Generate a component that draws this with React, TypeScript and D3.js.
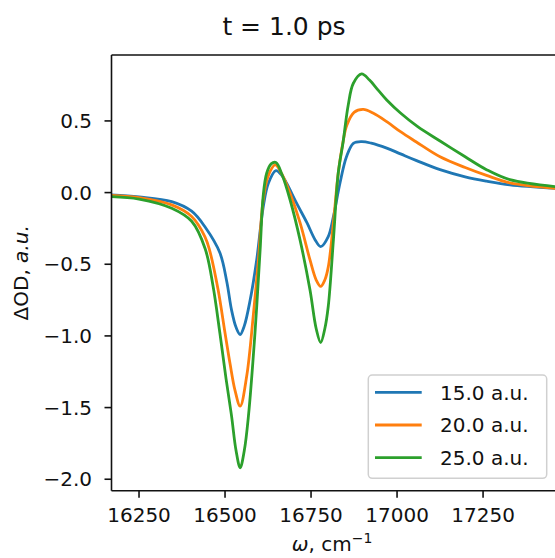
import React from 'react';
import * as d3 from 'd3';

const W = 555;
const H = 558;

const titleText = 't = 1.0 ps';
const seriesLabels = ['15.0 a.u.', '20.0 a.u.', '25.0 a.u.'];
const seriesColors = ['#1f77b4', '#ff7f0e', '#2ca02c'];
const xTicks = [16250, 16500, 16750, 17000, 17250];
const yTicks = [-2.0, -1.5, -1.0, -0.5, 0.0, 0.5];

const blueX = [16170, 16250, 16345, 16403, 16442, 16485, 16505, 16519, 16532, 16544, 16556, 16573, 16592, 16611, 16626, 16648, 16665, 16679, 16708, 16738, 16762, 16778, 16800, 16815, 16834, 16853, 16873, 16897, 16925, 16970, 17010, 17055, 17125, 17198, 17260, 17328, 17460];
const blueY = [-0.016, -0.03, -0.063, -0.13, -0.24, -0.42, -0.62, -0.82, -0.94, -0.99, -0.93, -0.75, -0.47, -0.10, 0.065, 0.153, 0.12, 0.065, -0.074, -0.21, -0.33, -0.377, -0.307, -0.167, 0.065, 0.25, 0.344, 0.356, 0.345, 0.31, 0.27, 0.225, 0.16, 0.11, 0.08, 0.054, 0.03];

const orangeX = [16170, 16250, 16345, 16403, 16442, 16456, 16480, 16500, 16515, 16529, 16544, 16563, 16582, 16597, 16611, 16626, 16646, 16665, 16689, 16718, 16747, 16765, 16778, 16790, 16800, 16815, 16829, 16844, 16854, 16875, 16902, 16930, 16970, 17010, 17055, 17125, 17198, 17260, 17328, 17460];
const orangeY = [-0.02, -0.035, -0.086, -0.167, -0.31, -0.41, -0.68, -0.98, -1.20, -1.38, -1.49, -1.28, -0.86, -0.47, -0.05, 0.12, 0.193, 0.13, -0.005, -0.21, -0.47, -0.61, -0.655, -0.61, -0.52, -0.21, 0.135, 0.367, 0.47, 0.56, 0.58, 0.555, 0.495, 0.425, 0.355, 0.25, 0.175, 0.12, 0.068, 0.03];

const greenX = [16170, 16250, 16345, 16403, 16442, 16465, 16485, 16503, 16519, 16532, 16544, 16556, 16568, 16587, 16602, 16611, 16621, 16634, 16648, 16665, 16689, 16718, 16747, 16765, 16778, 16790, 16800, 16815, 16829, 16843, 16858, 16873, 16897, 16920, 16945, 16970, 17010, 17060, 17125, 17198, 17260, 17328, 17460];
const greenY = [-0.028, -0.045, -0.109, -0.20, -0.39, -0.65, -0.98, -1.30, -1.56, -1.80, -1.92, -1.80, -1.56, -0.98, -0.40, -0.02, 0.135, 0.20, 0.21, 0.13, -0.05, -0.33, -0.68, -0.95, -1.046, -0.95, -0.795, -0.33, 0.135, 0.35, 0.61, 0.763, 0.828, 0.785, 0.715, 0.646, 0.555, 0.46, 0.36, 0.25, 0.16, 0.09, 0.042];

const seriesX = [blueX, orangeX, greenX];
const seriesY = [blueY, orangeY, greenY];

const FONT = 'DejaVu Sans, sans-serif';

export default function App() {
  const left = 111.5;
  const right = 556;
  const top = 55;
  const bottom = 490.7;

  const x = d3.scaleLinear().domain([16170, 17462]).range([left, right]);
  const y = d3.scaleLinear().domain([-2.08, 0.96]).range([bottom, top]);

  const line = d3
    .line<[number, number]>()
    .x((d) => x(d[0]))
    .y((d) => y(d[1]))
    .curve(d3.curveCatmullRom.alpha(0.5));

  const fmtY = (v: number) => (v < 0 ? '\u2212' + Math.abs(v).toFixed(1) : v.toFixed(1));

  const legX = 368.3;
  const legY = 375;
  const legW = 178.4;
  const legH = 103.3;
  const rowY = [392.3, 425, 457.7];

  return (
    <svg
      width={W}
      height={H}
      style={{ position: 'absolute', left: 0, top: 0, background: '#fff' }}
      fontFamily={FONT}
    >
      <rect x={0} y={0} width={W} height={H} fill="#fff" />
      <defs>
        <clipPath id="plotclip">
          <rect x={left} y={top} width={right - left} height={bottom - top} />
        </clipPath>
      </defs>

      <text x={284} y={35} textAnchor="middle" fontSize={25} fill="#111">
        {titleText}
      </text>

      <g clipPath="url(#plotclip)">
        {seriesX.map((xs, i) => (
          <path
            key={i}
            d={line(xs.map((v, j) => [v, seriesY[i][j]] as [number, number])) || ''}
            fill="none"
            stroke={seriesColors[i]}
            strokeWidth={2.8}
            strokeLinejoin="round"
            strokeLinecap="round"
          />
        ))}
      </g>

      {/* spines */}
      <line x1={left} x2={left} y1={top} y2={bottom} stroke="#111" strokeWidth={1.6} />
      <line x1={left} x2={right} y1={bottom} y2={bottom} stroke="#111" strokeWidth={1.6} />
      <line x1={left} x2={right} y1={top} y2={top} stroke="#111" strokeWidth={1.6} />

      {/* x ticks */}
      {xTicks.map((t) => (
        <g key={t}>
          <line x1={x(t)} x2={x(t)} y1={bottom} y2={bottom + 7} stroke="#111" strokeWidth={1.6} />
          <text x={x(t)} y={522} textAnchor="middle" fontSize={20} fill="#111">
            {t}
          </text>
        </g>
      ))}

      {/* y ticks */}
      {yTicks.map((t) => (
        <g key={t}>
          <line x1={left - 7} x2={left} y1={y(t)} y2={y(t)} stroke="#111" strokeWidth={1.6} />
          <text x={92} y={y(t)} dy="0.36em" textAnchor="end" fontSize={20} fill="#111">
            {fmtY(t)}
          </text>
        </g>
      ))}

      {/* axis labels */}
      <text x={332} y={551} textAnchor="middle" fontSize={20} fill="#111">
        <tspan fontStyle="italic">ω</tspan>
        <tspan>, cm</tspan>
        <tspan fontSize={14} dy={-8}>−1</tspan>
      </text>
      <text
        transform={`translate(28, ${(top + bottom) / 2}) rotate(-90)`}
        textAnchor="middle"
        fontSize={20}
        fill="#111"
      >
        <tspan>ΔOD, </tspan>
        <tspan fontStyle="italic">a.u.</tspan>
      </text>

      {/* legend */}
      <rect
        x={legX}
        y={legY}
        width={legW}
        height={legH}
        rx={4}
        fill="#fff"
        fillOpacity={0.8}
        stroke="#d0d0d0"
        strokeWidth={1.5}
      />
      {seriesLabels.map((lab, i) => (
        <g key={lab}>
          <line x1={375} x2={421.7} y1={rowY[i]} y2={rowY[i]} stroke={seriesColors[i]} strokeWidth={2.8} />
          <text x={440} y={rowY[i]} dy="0.36em" fontSize={20} fill="#111">
            {lab}
          </text>
        </g>
      ))}
    </svg>
  );
}
